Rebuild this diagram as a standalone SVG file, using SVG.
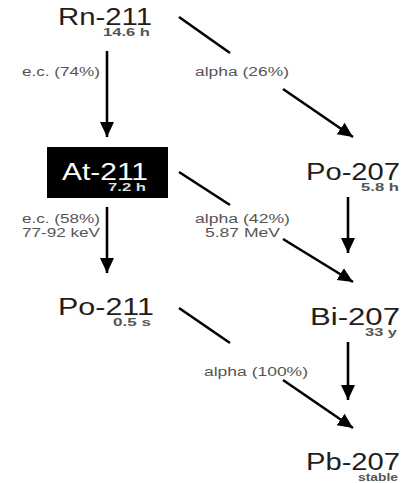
<svg xmlns="http://www.w3.org/2000/svg" width="411" height="483" viewBox="0 0 411 483">
<style>
.main{font-family:"Liberation Sans",Arial,sans-serif;font-size:23px;fill:#1e1e1e}
.hl{font-family:"Liberation Sans",Arial,sans-serif;font-size:11px;font-weight:bold;fill:#555}
.lbl{font-family:"Liberation Sans",Arial,sans-serif;font-size:12px;fill:#555}
.c{stroke:#000;stroke-width:2.6;fill:none}
</style>
<defs>
<marker id="ah" markerUnits="userSpaceOnUse" markerWidth="16" markerHeight="16" refX="15" refY="7" orient="auto" viewBox="0 0 16 14">
<path d="M0,0 L15,7 L0,14 z" fill="#000"/>
</marker>
</defs>
<rect width="411" height="483" fill="#fff"/>
<g id="connectors">
<line class="c" x1="107" y1="51" x2="107" y2="137" marker-end="url(#ah)"/>
<line class="c" x1="179" y1="17" x2="230" y2="53"/>
<line class="c" x1="283" y1="89" x2="353" y2="137" marker-end="url(#ah)"/>
<line class="c" x1="107" y1="207" x2="107" y2="273" marker-end="url(#ah)"/>
<line class="c" x1="179" y1="172" x2="230" y2="205"/>
<line class="c" x1="283" y1="239" x2="353" y2="282" marker-end="url(#ah)"/>
<line class="c" x1="348" y1="197" x2="348" y2="253" marker-end="url(#ah)"/>
<line class="c" x1="348" y1="342" x2="348" y2="400" marker-end="url(#ah)"/>
<line class="c" x1="179" y1="308" x2="230" y2="343"/>
<line class="c" x1="283" y1="380" x2="353" y2="428" marker-end="url(#ah)"/>
<text class="lbl" x="22" y="76" textLength="78" lengthAdjust="spacingAndGlyphs">e.c. (74%)</text>
<text class="lbl" x="195" y="76" textLength="94" lengthAdjust="spacingAndGlyphs">alpha (26%)</text>
<text class="lbl" x="22" y="223" textLength="78" lengthAdjust="spacingAndGlyphs">e.c. (58%)</text>
<text class="lbl" x="22" y="237" textLength="78" lengthAdjust="spacingAndGlyphs">77-92 keV</text>
<text class="lbl" x="195" y="223" textLength="95" lengthAdjust="spacingAndGlyphs">alpha (42%)</text>
<text class="lbl" x="205" y="237" textLength="75" lengthAdjust="spacingAndGlyphs">5.87 MeV</text>
<text class="lbl" x="204" y="376" textLength="104" lengthAdjust="spacingAndGlyphs">alpha (100%)</text>
</g>
<g id="rn211">
<text class="main" x="58" y="25" textLength="94" lengthAdjust="spacingAndGlyphs">Rn-211</text>
<text class="hl" x="103" y="36" textLength="47" lengthAdjust="spacingAndGlyphs">14.6 h</text>
</g>
<g id="at211">
<rect x="47" y="147" width="121" height="51" fill="#000"/>
<text class="main" x="62" y="180" textLength="86" lengthAdjust="spacingAndGlyphs" style="fill:#fff">At-211</text>
<text class="hl" x="108" y="191" textLength="38" lengthAdjust="spacingAndGlyphs" style="fill:#ddd">7.2 h</text>
</g>
<g id="po207">
<text class="main" x="306" y="180" textLength="94" lengthAdjust="spacingAndGlyphs">Po-207</text>
<text class="hl" x="361" y="191" textLength="38" lengthAdjust="spacingAndGlyphs">5.8 h</text>
</g>
<g id="po211">
<text class="main" x="58" y="315" textLength="96" lengthAdjust="spacingAndGlyphs">Po-211</text>
<text class="hl" x="113" y="326" textLength="38" lengthAdjust="spacingAndGlyphs">0.5 s</text>
</g>
<g id="bi207">
<text class="main" x="310" y="325" textLength="90" lengthAdjust="spacingAndGlyphs">Bi-207</text>
<text class="hl" x="365" y="336" textLength="32" lengthAdjust="spacingAndGlyphs">33 y</text>
</g>
<g id="pb207">
<text class="main" x="306" y="470" textLength="94" lengthAdjust="spacingAndGlyphs">Pb-207</text>
<text class="hl" x="358" y="481" textLength="40" lengthAdjust="spacingAndGlyphs">stable</text>
</g>
</svg>
